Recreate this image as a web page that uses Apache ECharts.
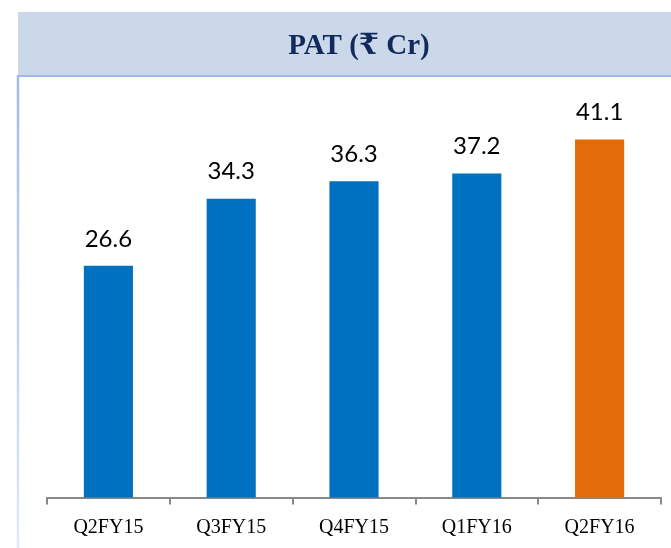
<!DOCTYPE html>
<html>
<head>
<meta charset="utf-8">
<script src="https://cdn.jsdelivr.net/npm/echarts@6/dist/echarts.min.js"></script>
<style>
  html, body { margin: 0; padding: 0; background: #fff; }
  #main { width: 671px; height: 548px; }
</style>
</head>
<body>
<div id="main"></div>
<script>
// quarterly PAT, Rs crore
var quarters = ['Q2FY15', 'Q3FY15', 'Q4FY15', 'Q1FY16', 'Q2FY16'];
var pat = [26.6, 34.3, 36.3, 37.2, 41.1];
var barColors = ['#0070C0', '#0070C0', '#0070C0', '#0070C0', '#E36C0A'];

var option = {
    animation: false,
    graphic: [
        {
            type: 'rect',
            shape: { x: 18, y: 12, width: 653, height: 63 },
            style: { fill: '#CBD8EA' },
            silent: true
        },
        {
            type: 'line',
            shape: { x1: 17, y1: 76, x2: 671, y2: 76 },
            style: { stroke: '#9FB9E8', lineWidth: 2.2 }
        },
        {
            type: 'line',
            shape: { x1: 18, y1: 75, x2: 18, y2: 548 },
            style: {
                stroke: new echarts.graphic.LinearGradient(0, 0, 0, 1, [
                    { offset: 0, color: '#A2BAE9' },
                    { offset: 1, color: '#E2E9F8' }
                ]),
                lineWidth: 2.5
            }
        }
    ],
    title: {
        text: 'PAT (₹ Cr)',
        left: 354,
        textAlign: 'center',
        top: 27,
        textStyle: {
            fontFamily: '"Liberation Serif", "DejaVu Serif", serif',
            fontWeight: 'bold',
            fontSize: 29,
            color: '#12295C'
        }
    },
    grid: {
        left: 47,
        right: 10,
        top: 105.5,
        bottom: 50.5
    },
    xAxis: {
        type: 'category',
        data: quarters,
        boundaryGap: true,
        axisLine: {
            show: true,
            lineStyle: { color: '#888888', width: 2 }
        },
        axisTick: {
            show: true,
            length: 7,
            lineStyle: { color: '#888888', width: 2 }
        },
        axisLabel: {
            show: true,
            margin: 20,
            fontFamily: '"Liberation Serif", serif',
            fontSize: 20,
            color: '#000'
        }
    },
    yAxis: {
        type: 'value',
        min: 0,
        max: 45,
        show: false,
        splitLine: { show: false }
    },
    series: [{
        name: 'PAT',
        type: 'bar',
        barWidth: '40%',
        data: pat.map(function (v, i) {
            return { value: v, itemStyle: { color: barColors[i] } };
        }),
        label: {
            show: true,
            position: 'top',
            distance: 15,
            fontFamily: 'Lato, "Noto Sans", sans-serif',
            fontSize: 24,
            color: '#000'
        }
    }]
};

var dom = document.getElementById('main');
var myChart = echarts.init(dom);
myChart.setOption(option);
</script>
</body>
</html>
